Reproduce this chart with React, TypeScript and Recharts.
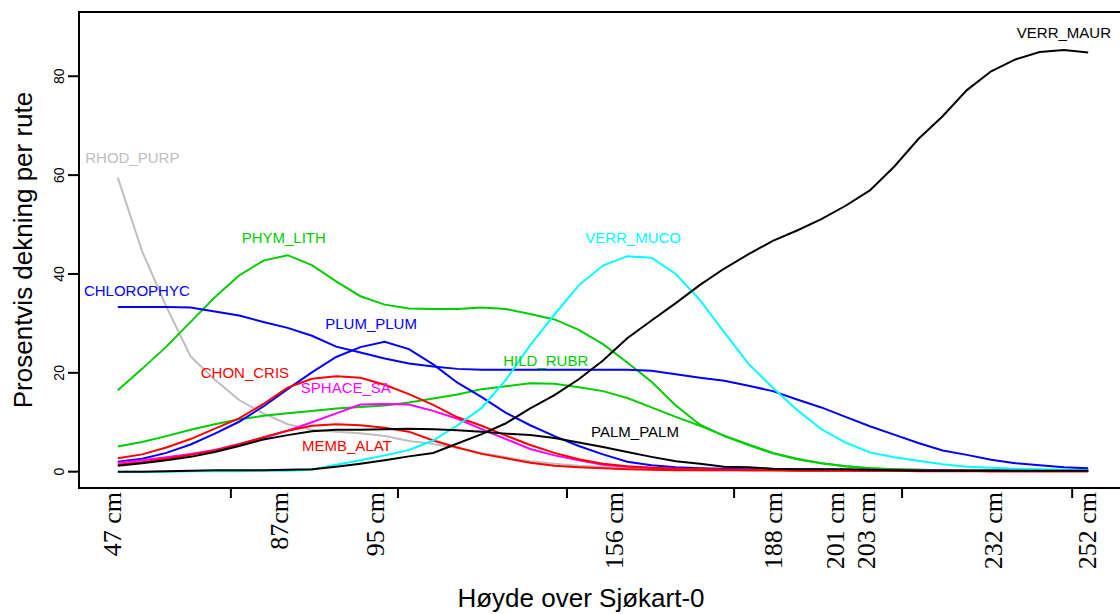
import { LineChart, Line, XAxis, YAxis, ReferenceArea, ReferenceDot } from 'recharts'

// sample positions along the transect (plot units, 0 = lowest quadrat, 100 = highest)
const positions = [
  0, 2.5, 5, 7.5, 10, 12.5, 15, 17.5, 20, 22.5, 25, 27.5, 30, 32.5, 35, 37.5, 40, 42.5, 45, 47.5,
  50, 52.5, 55, 57.5, 60, 62.5, 65, 67.5, 70, 72.5, 75, 77.5, 80, 82.5, 85, 87.5, 90, 92.5, 95, 97.5, 100,
]

// percent cover per quadrat, one array per species
const rhodPurp = [
  59.5, 44.6, 33.4, 23.3, 18.6, 14.5, 11.8, 9.6, 8.5, 8.1, 7.8, 7.2, 6.2, 5.6, 4.8, 3.8, 2.9, 2.1, 1.6, 1.2,
  1.0, 0.7, 0.5, 0.4, 0.3, 0.3, 0.3, 0.3, 0.3, 0.2, 0.2, 0.2, 0.2, 0.2, 0.2, 0.2, 0.1, 0.1, 0.1, 0.1, 0.1,
]
const phymLith = [
  16.5, 20.8, 25.3, 30.3, 35.3, 39.7, 42.7, 43.8, 41.8, 38.5, 35.5, 33.8, 33.0, 32.9, 32.9, 33.2, 32.9, 31.9, 30.8, 28.7,
  25.8, 22.1, 18.2, 13.4, 9.5, 7.2, 5.4, 3.7, 2.5, 1.7, 1.1, 0.7, 0.5, 0.4, 0.3, 0.3, 0.3, 0.2, 0.2, 0.2, 0.2,
]
const hildRubr = [
  5.1, 6.0, 7.2, 8.5, 9.6, 10.6, 11.3, 11.8, 12.3, 12.8, 13.1, 13.4, 14.0, 14.8, 15.6, 16.7, 17.3, 17.9, 17.8, 17.1,
  16.3, 14.9, 13.0, 11.1, 9.3, 7.3, 5.5, 3.8, 2.6, 1.7, 1.1, 0.7, 0.5, 0.4, 0.3, 0.3, 0.3, 0.2, 0.2, 0.2, 0.2,
]
const chlorophyc = [
  33.3, 33.3, 33.3, 33.2, 32.4, 31.6, 30.3, 29.1, 27.5, 25.3, 24.1, 22.9, 21.9, 21.3, 20.8, 20.6, 20.6, 20.6, 20.6, 20.6,
  20.6, 20.6, 20.4, 19.7, 19.0, 18.4, 17.4, 16.3, 14.6, 13.0, 11.1, 9.2, 7.5, 5.8, 4.3, 3.4, 2.4, 1.7, 1.3, 0.9, 0.7,
]
const plumPlum = [
  2.0, 2.6, 3.8, 5.5, 7.7, 10.1, 13.2, 16.7, 20.1, 23.2, 25.2, 26.3, 24.8, 21.7, 18.0, 15.1, 11.9, 9.4, 7.2, 5.2,
  3.5, 2.0, 1.3, 0.9, 0.7, 0.6, 0.5, 0.5, 0.5, 0.5, 0.4, 0.3, 0.3, 0.3, 0.3, 0.2, 0.2, 0.2, 0.2, 0.2, 0.2,
]
const chonCris = [
  2.7, 3.5, 4.9, 6.6, 8.7, 10.8, 13.7, 17.0, 18.8, 19.3, 19.0, 17.6, 15.7, 13.5, 11.0, 9.3, 7.3, 5.4, 3.8, 2.5,
  1.6, 1.1, 0.8, 0.6, 0.5, 0.4, 0.3, 0.3, 0.3, 0.3, 0.3, 0.2, 0.2, 0.2, 0.2, 0.2, 0.1, 0.1, 0.1, 0.1, 0.1,
]
const membAlat = [
  1.4, 1.9, 2.6, 3.4, 4.3, 5.5, 7.0, 8.3, 9.3, 9.6, 9.4, 8.9, 8.1, 6.3, 4.9, 3.6, 2.7, 1.8, 1.2, 0.9,
  0.7, 0.5, 0.4, 0.3, 0.3, 0.3, 0.3, 0.3, 0.2, 0.2, 0.2, 0.2, 0.2, 0.1, 0.1, 0.1, 0.1, 0.1, 0.1, 0.1, 0.1,
]
const sphaceSa = [
  1.8, 2.3, 2.9, 3.6, 4.4, 5.6, 6.8, 8.3, 10.0, 11.8, 13.6, 13.7, 13.6, 12.3, 10.7, 8.6, 6.6, 4.6, 3.3, 2.3,
  1.4, 1.0, 0.8, 0.6, 0.5, 0.4, 0.4, 0.4, 0.3, 0.3, 0.3, 0.3, 0.3, 0.2, 0.2, 0.2, 0.2, 0.2, 0.2, 0.2, 0.2,
]
const palmPalm = [
  1.2, 1.7, 2.3, 3.0, 4.0, 5.2, 6.5, 7.4, 8.2, 8.5, 8.5, 8.6, 8.7, 8.6, 8.4, 8.1, 7.7, 7.4, 6.8, 5.9,
  5.0, 4.0, 3.0, 2.1, 1.6, 1.0, 0.9, 0.6, 0.5, 0.5, 0.5, 0.4, 0.3, 0.2, 0.2, 0.2, 0.2, 0.2, 0.2, 0.2, 0.2,
]
const verrMuco = [
  0, 0, 0, 0.1, 0.1, 0.1, 0.2, 0.2, 0.4, 1.4, 2.3, 3.3, 4.4, 6.3, 9.4, 12.9, 18.6, 25.6, 31.8, 37.7,
  41.7, 43.6, 43.3, 40.0, 34.7, 28.2, 21.8, 17.0, 12.5, 8.6, 5.9, 3.9, 2.9, 2.2, 1.5, 1.0, 0.8, 0.6, 0.5, 0.4, 0.3,
]
const verrMaur = [
  0, 0, 0.1, 0.2, 0.3, 0.3, 0.3, 0.4, 0.5, 1.0, 1.6, 2.3, 3.1, 3.8, 5.7, 7.6, 9.8, 12.8, 15.5, 18.7,
  22.5, 27.0, 30.6, 34.1, 37.8, 41.1, 44.0, 46.7, 48.8, 51.1, 53.8, 56.9, 61.7, 67.3, 71.9, 77.2, 81.0, 83.4, 84.9, 85.3, 84.8,
]

// x axis: plain tick marks and the height labels (placed at their quadrats)
const tickMarks = [11.65, 28.87, 46.29, 63.51, 80.82, 98.35]
const heightLabels = ['47 cm', '87cm', '95 cm', '156 cm', '188 cm', '201 cm', '203 cm', '232 cm', '252 cm']
const heightLabelPos = [-0.6, 16.7, 26.5, 51.13, 67.53, 73.92, 77.11, 90.21, 99.9]
const yTicks = [0, 20, 40, 60, 80]

const GREY = '#bebebe'
const GREEN = '#00cd00'
const BLUE = '#0000ff'
const RED = '#ff0000'
const MAGENTA = '#ff00ff'
const CYAN = '#00ffff'
const BLACK = '#000000'

const series = [
  { key: 'RHOD_PURP', values: rhodPurp, color: GREY },
  { key: 'PHYM_LITH', values: phymLith, color: GREEN },
  { key: 'HILD_RUBR', values: hildRubr, color: GREEN },
  { key: 'CHLOROPHYC', values: chlorophyc, color: BLUE },
  { key: 'PLUM_PLUM', values: plumPlum, color: BLUE },
  { key: 'SPHACE_SA', values: sphaceSa, color: MAGENTA },
  { key: 'CHON_CRIS', values: chonCris, color: RED },
  { key: 'MEMB_ALAT', values: membAlat, color: RED },
  { key: 'VERR_MUCO', values: verrMuco, color: CYAN },
  { key: 'PALM_PALM', values: palmPalm, color: BLACK },
  { key: 'VERR_MAUR', values: verrMaur, color: BLACK },
]

// where each species name is written (x in plot units, y in percent)
const nameTags = [
  { text: 'RHOD_PURP', x: 1.5, y: 63.6, color: GREY },
  { text: 'PHYM_LITH', x: 17.1, y: 47.3, color: GREEN },
  { text: 'CHLOROPHYC', x: 1.96, y: 36.7, color: BLUE },
  { text: 'PLUM_PLUM', x: 26.1, y: 29.9, color: BLUE },
  { text: 'CHON_CRIS', x: 13.1, y: 20.0, color: RED },
  { text: 'SPHACE_SA', x: 23.5, y: 16.9, color: MAGENTA },
  { text: 'MEMB_ALAT', x: 23.6, y: 5.2, color: RED },
  { text: 'HILD_RUBR', x: 44.1, y: 22.4, color: GREEN },
  { text: 'VERR_MUCO', x: 53.1, y: 47.4, color: CYAN },
  { text: 'PALM_PALM', x: 53.3, y: 8.1, color: BLACK },
  { text: 'VERR_MAUR', x: 97.5, y: 88.8, color: BLACK },
]

const rows = positions.map((u, i) => {
  const row: Record<string, number> = { u }
  series.forEach((s) => {
    row[s.key] = s.values[i]
  })
  return row
})

const SANS = "'Liberation Sans', Arial, Helvetica, sans-serif"
const SERIF = "'Liberation Serif', 'Times New Roman', serif"

function HeightTick(props: any) {
  const { x, y, payload } = props
  const i = heightLabelPos.indexOf(payload.value)
  if (i < 0) {
    return <line x1={x} x2={x} y1={y} y2={y + 10} stroke="#000" strokeWidth={2} />
  }
  const ty = y + 4
  return (
    <text x={x} y={ty} dy="0.33em" transform={`rotate(-90, ${x}, ${ty})`} textAnchor="end"
      fontFamily={SERIF} fontSize={26} fill="#000">
      {heightLabels[i]}
    </text>
  )
}

function PercentTick(props: any) {
  const { x, y, payload } = props
  const cx = x - 9
  return (
    <text x={cx} y={y} dy="0.35em" transform={`rotate(-90, ${cx}, ${y})`} textAnchor="middle"
      fontFamily={SANS} fontSize={14} fill="#000">
      {payload.value}
    </text>
  )
}

export default function App() {
  return (
    <div style={{ position: 'absolute', left: 0, top: 0, width: 1120, height: 614, overflow: 'hidden', background: '#fff' }}>
      <LineChart width={1140} height={614} data={rows} margin={{ top: 12, right: 13, bottom: 0, left: 0 }}>
        <XAxis type="number" dataKey="u" domain={[-4, 104]} allowDataOverflow
          ticks={[...tickMarks, ...heightLabelPos]} interval={0}
          tick={(p: any) => <HeightTick {...p} />} tickLine={false} axisLine={false}
          tickSize={0} tickMargin={0} height={126} />
        <YAxis type="number" domain={[-3.3, 93]} allowDataOverflow ticks={yTicks} interval={0}
          tick={(p: any) => <PercentTick {...p} />} tickLine={{ stroke: '#000', strokeWidth: 2 }}
          tickSize={11} tickMargin={0} axisLine={false} width={79} />

        {series.map((s) => (
          <Line key={s.key} dataKey={s.key} type="linear" stroke={s.color} strokeWidth={2}
            dot={false} activeDot={false} isAnimationActive={false} />
        ))}

        {nameTags.map((t) => (
          <ReferenceDot key={t.text} x={t.x} y={t.y} r={0} fill="none" stroke="none"
            label={{ value: t.text, position: 'center', fill: t.color, fontSize: 15, fontFamily: SANS }} />
        ))}

        {/* plot frame */}
        <ReferenceArea x1={-4} x2={104} y1={-3.3} y2={93} fill="none" stroke="#000" strokeWidth={2} ifOverflow="visible" />
      </LineChart>

      {/* axis titles */}
      <svg width={1120} height={614} style={{ position: 'absolute', left: 0, top: 0, pointerEvents: 'none' }}>
        <text x={32} y={250} transform="rotate(-90, 32, 250)" textAnchor="middle" fontFamily={SANS} fontSize={26} fill="#000">
          Prosentvis dekning per rute
        </text>
        <text x={581} y={607} textAnchor="middle" fontFamily={SANS} fontSize={26} fill="#000">
          Høyde over Sjøkart-0
        </text>
      </svg>
    </div>
  )
}
